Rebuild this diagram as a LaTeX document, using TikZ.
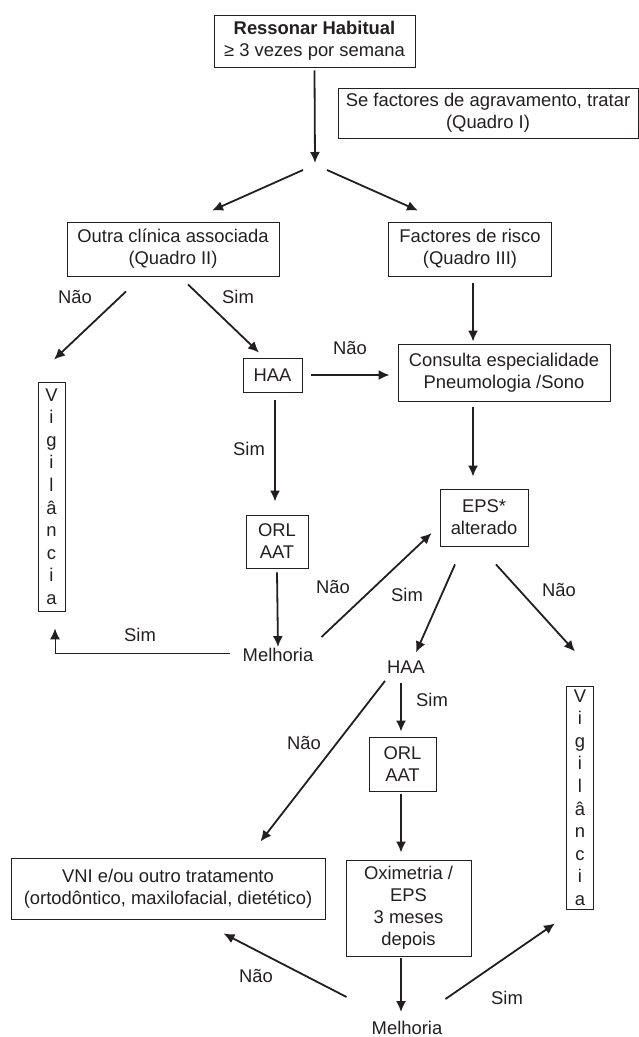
\documentclass[tikz,border=0pt]{standalone}
\usepackage{fontspec}
\setmainfont{Liberation Sans}
\usetikzlibrary{arrows.meta}
\definecolor{ink}{RGB}{35,31,32}
\tikzset{
  box/.style={draw=ink, line width=0.9pt, align=center, inner sep=0pt, text=ink},
  word/.style={align=center, inner sep=0pt, text=ink},
  arr/.style={draw=ink, line width=1.8pt, -{Latex[length=11pt,width=10pt]}},
  letters/.style={box, font=\fontsize{18.4}{22.6}\selectfont, minimum width=27, minimum height=229},
}
\begin{document}
\begin{tikzpicture}[x=1pt,y=-1pt,font=\fontsize{18.4}{22}\selectfont]
  \useasboundingbox (0,0) rectangle (639,1037);

  % boxes
  \node[box, minimum width=201, minimum height=52] (start) at (314.5,41) {\textbf{Ressonar Habitual}\\≥ 3 vezes por semana};
  \node[box, minimum width=300, minimum height=50] (agrav) at (488,113) {Se factores de agravamento, tratar\\(Quadro I)};
  \node[box, minimum width=212, minimum height=54] (outra) at (173,249) {Outra clínica associada\\(Quadro II)};
  \node[box, minimum width=163, minimum height=54] (risco) at (470,249) {Factores de risco\\(Quadro III)};
  \node[box, minimum width=59, minimum height=34] (haa) at (272.5,375) {HAA};
  \node[box, minimum width=212, minimum height=57] (consulta) at (504,372.5) {Consulta especialidade\\Pneumologia /Sono};
  \node[letters] (vigA) at (51.5,496.5) {V\\i\\g\\i\\l\\â\\n\\c\\i\\a};
  \node[box, minimum width=62, minimum height=53] (orlA) at (277,541.5) {ORL\\AAT};
  \node[word] (melA) at (278,655) {Melhoria};
  \node[box, minimum width=88, minimum height=57] (eps) at (484,517.5) {EPS*\\alterado};
  \node[word] (haaB) at (406,667) {HAA};
  \node[letters, minimum height=223] (vigB) at (580,797.5) {V\\i\\g\\i\\l\\â\\n\\c\\i\\a};
  \node[box, minimum width=67, minimum height=54] (orlB) at (402.5,764) {ORL\\AAT};
  \node[box, minimum width=125, minimum height=96] (oxi) at (408.5,908) {Oximetria /\\EPS\\3 meses\\depois};
  \node[word] (melB) at (407,1028) {Melhoria};
  \node[box, minimum width=314, minimum height=61] (vni) at (168,888.5) {VNI e/ou outro tratamento\\(ortodôntico, maxilofacial, dietético)};
  \coordinate (split) at (315,163);

  % connectors
  \draw[arr] ([yshift=-3pt]start.south) -- (split);
  \draw[arr] ([xshift=-12pt,yshift=-7pt]split) -- ([xshift=39pt,yshift=11pt]outra.north);
  \draw[arr] ([xshift=12pt,yshift=-7pt]split) -- ([xshift=-52pt,yshift=11pt]risco.north);
  \draw[arr] ([xshift=-47pt,yshift=-15pt]outra.south) -- ([xshift=2.5pt,yshift=22pt]vigA.north);
  \draw[arr] ([xshift=15pt,yshift=-8pt]outra.south) -- ([xshift=-13.5pt,yshift=5pt]haa.north);
  \draw[arr] ([xshift=9pt]haa.east) -- ([xshift=-8pt,yshift=-2.5pt]consulta.west);
  \draw[arr] ([xshift=3pt,yshift=-7pt]risco.south) -- ([xshift=-31pt,yshift=2pt]consulta.north);
  \draw[arr] ([xshift=2.5pt,yshift=-8pt]haa.south) -- ([xshift=-2pt,yshift=13pt]orlA.north);
  \draw[arr] ([xshift=-31pt,yshift=-6pt]consulta.south) -- ([xshift=-11pt,yshift=12pt]eps.north);
  \draw[arr] ([yshift=-4pt]orlA.south) -- ([yshift=1pt]melA.north);
  \draw[arr, line width=1pt] ([xshift=-13pt,yshift=2pt]melA.west) -| ([xshift=3.5pt,yshift=-17pt]vigA.south);
  \draw[arr] ([xshift=8pt,yshift=18pt]melA.east) -- ([xshift=-8pt,yshift=-15.5pt]eps.west);
  \draw[arr] ([xshift=-29pt,yshift=-18pt]eps.south) -- ([xshift=10pt,yshift=8pt]haaB.north);
  \draw[arr] ([xshift=12pt,yshift=-18pt]eps.south) -- ([xshift=-5pt,yshift=34pt]vigB.north);
  \draw[arr] ([xshift=-5pt,yshift=-9.4pt]haaB.south) -- ([xshift=-1.5pt,yshift=5pt]orlB.north);
  \draw[arr] ([xshift=-21pt,yshift=-7.4pt]haaB.south) -- ([xshift=-65pt,yshift=16pt]vni.north east);
  \draw[arr] ([xshift=-1.5pt,yshift=-3pt]orlB.south) -- ([xshift=-7.5pt,yshift=7pt]oxi.north);
  \draw[arr] ([xshift=-7.5pt,yshift=-2pt]oxi.south) -- ([xshift=-6pt,yshift=9pt]melB.north);
  \draw[arr] ([xshift=-25pt,yshift=31pt]melB.west) -- ([xshift=-102pt,yshift=-14pt]vni.south east);
  \draw[arr] ([xshift=3pt,yshift=29pt]melB.east) -- ([xshift=-25pt,yshift=-14pt]vigB.south);

  % labels
  \node[word] (l1) at (75,297) {Não};
  \node[word] (l2) at (238,297) {Sim};
  \node[word] (l3) at (350,348) {Não};
  \node[word] (l4) at (249,449) {Sim};
  \node[word] (l5) at (140,635) {Sim};
  \node[word] (l6) at (333,587) {Não};
  \node[word] (l7) at (407,595) {Sim};
  \node[word] (l8) at (559,590) {Não};
  \node[word] (l9) at (432,700) {Sim};
  \node[word] (l10) at (304,743) {Não};
  \node[word] (l11) at (256,976) {Não};
  \node[word] (l12) at (507,998) {Sim};

\end{tikzpicture}
\end{document}
